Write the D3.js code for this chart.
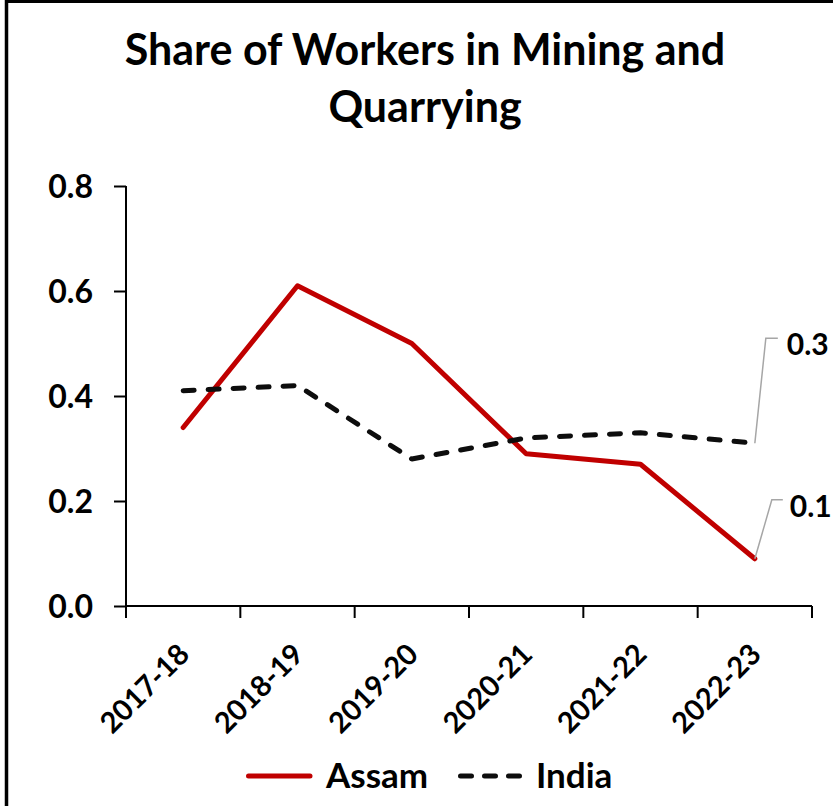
<!DOCTYPE html>
<html>
<head>
<meta charset="utf-8">
<script src="https://cdn.jsdelivr.net/npm/d3@7"></script>
<style>
  body { margin: 0; background: #fff; }
  svg { display: block; }
</style>
</head>
<body>
<svg></svg>
<script>
// datos
var years = ["2017-18", "2018-19", "2019-20", "2020-21", "2021-22", "2022-23"];
var assam = [0.34, 0.61, 0.50, 0.29, 0.27, 0.09];
var india = [0.41, 0.42, 0.28, 0.32, 0.33, 0.31];
var yTicks = [0, 0.2, 0.4, 0.6, 0.8];
var titleLines = ["Share of Workers in Mining and", "Quarrying"];

var W = 833, H = 806;
var font = "Lato, 'Open Sans', sans-serif";

var svg = d3.select("svg")
    .attr("width", W)
    .attr("height", H)
    .attr("font-family", font)
    .attr("font-weight", "bold");

// marco (solo se ve arriba y a la izquierda)
svg.append("line")
    .attr("x1", 5).attr("x2", W).attr("y1", 1.5).attr("y2", 1.5)
    .attr("stroke", "#000").attr("stroke-width", 3);
svg.append("line")
    .attr("x1", 6.5).attr("x2", 6.5).attr("y1", 0).attr("y2", H)
    .attr("stroke", "#000").attr("stroke-width", 3.5);

// titulo
svg.append("text")
    .attr("text-anchor", "middle")
    .attr("font-size", 43)
    .selectAll("tspan")
    .data(titleLines)
    .enter().append("tspan")
    .attr("x", 425)
    .attr("y", function(d, i) { return 65 + i * 57; })
    .text(function(d) { return d; });

// escalas
var x = d3.scaleBand().domain(years).range([126, 812]);
var y = d3.scaleLinear().domain([0, 0.8]).range([606, 186]);

// eje y
var yAxis = svg.append("g")
    .attr("transform", "translate(126,0)")
    .call(d3.axisLeft(y).tickValues(yTicks).tickFormat(d3.format(".1f"))
        .tickSize(12).tickPadding(21).tickSizeOuter(0));
yAxis.select(".domain").remove();
yAxis.append("line")
    .attr("x1", 0).attr("x2", 0).attr("y1", y(0.8)).attr("y2", 618)
    .attr("stroke", "#000").attr("stroke-width", 2);
yAxis.selectAll(".tick line").attr("stroke", "#000").attr("stroke-width", 2);
yAxis.selectAll(".tick text")
    .attr("font-family", font)
    .attr("font-weight", "bold")
    .attr("font-size", 32)
    .attr("fill", "#000")
    .attr("dy", "0.36em");

// eje x (marcas en los bordes de cada categoria)
var xg = svg.append("g");
xg.append("line")
    .attr("x1", 126).attr("x2", 812).attr("y1", y(0)).attr("y2", y(0))
    .attr("stroke", "#000").attr("stroke-width", 2);
var edges = years.map(function(d) { return x(d); }).concat([x.range()[1]]);
xg.selectAll(".xtick")
    .data(edges)
    .enter().append("line")
    .attr("class", "xtick")
    .attr("x1", function(d) { return d; })
    .attr("x2", function(d) { return d; })
    .attr("y1", y(0)).attr("y2", y(0) + 12)
    .attr("stroke", "#000").attr("stroke-width", 2);
xg.selectAll(".xlabel")
    .data(years)
    .enter().append("text")
    .attr("class", "xlabel")
    .attr("text-anchor", "end")
    .attr("font-size", 29)
    .attr("transform", function(d) {
        return "translate(" + (x(d) + x.bandwidth() / 2 + 8) + "," + 656 + ") rotate(-45)";
    })
    .text(function(d) { return d; });

// lineas
var cx = function(d, i) { return x(years[i]) + x.bandwidth() / 2; };
var line = d3.line().x(cx).y(function(d) { return y(d); });

svg.append("path")
    .datum(assam)
    .attr("d", line)
    .attr("fill", "none")
    .attr("stroke", "#C00000")
    .attr("stroke-width", 5)
    .attr("stroke-linejoin", "round")
    .attr("stroke-linecap", "round");

svg.append("path")
    .datum(india)
    .attr("d", line)
    .attr("fill", "none")
    .attr("stroke", "#0d0d0d")
    .attr("stroke-width", 5)
    .attr("stroke-dasharray", "11,14")
    .attr("stroke-linejoin", "round")
    .attr("stroke-linecap", "round");

// etiquetas del ultimo punto con linea guia
var last = years.length - 1;
var labels = [
    { v: india[last], dx1: 11, dy1: -105, dx2: 23, tx: 32 },
    { v: assam[last], dx1: 17, dy1: -59, dx2: 28, tx: 35 }
];
labels.forEach(function(l) {
    var px = cx(null, last), py = y(l.v);
    svg.append("polyline")
        .attr("points", [[px, py], [px + l.dx1, py + l.dy1], [px + l.dx2, py + l.dy1]].join(" "))
        .attr("fill", "none")
        .attr("stroke", "#a6a6a6")
        .attr("stroke-width", 1.5);
    svg.append("text")
        .attr("x", px + l.tx)
        .attr("y", py + l.dy1 + 6)
        .attr("dy", "0.36em")
        .attr("font-size", 30)
        .text(d3.format(".1f")(l.v));
});

// leyenda
var legend = [
    { name: "Assam", color: "#C00000", dash: null, x: 246, tx: 326 },
    { name: "India", color: "#0d0d0d", dash: "11,13", x: 458, tx: 536 }
];
var lg = svg.append("g");
legend.forEach(function(l) {
    lg.append("line")
        .attr("x1", l.x + 2.5).attr("x2", l.x + 64)
        .attr("y1", 776).attr("y2", 776)
        .attr("stroke", l.color)
        .attr("stroke-width", 5)
        .attr("stroke-linecap", "round")
        .attr("stroke-dasharray", l.dash);
    lg.append("text")
        .attr("x", l.tx)
        .attr("y", 788)
        .attr("font-size", 35)
        .text(l.name);
});
</script>
</body>
</html>
